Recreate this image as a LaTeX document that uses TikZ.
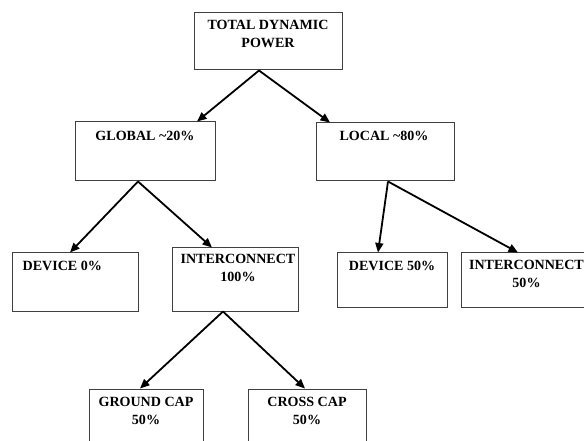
\documentclass[tikz,border=0pt]{standalone}
\usepackage{fontspec}
\setmainfont{Liberation Serif}
\usetikzlibrary{arrows.meta}
\tikzset{
  box/.style={draw=black!75, line width=1bp, fill=white, inner sep=0pt},
  txt/.style={anchor=north, inner sep=0pt, align=center, text=black,
    font=\fontsize{14.1}{18}\selectfont\bfseries},
  conn/.style={line width=1.8bp, -{Triangle[length=9.5bp,width=8bp]}}
}
\begin{document}
\begin{tikzpicture}[x=1bp,y=-1bp]
\useasboundingbox (0,0) rectangle (584,441);
\clip (0,0) rectangle (584,441);
\fill[white] (0,0) rectangle (584,441);
% boxes
\node[box, minimum width=148bp, minimum height=57bp] (top) at (268,41.5) {};
\node[box, minimum width=140bp, minimum height=59bp] (glob) at (145,151.5) {};
\node[box, minimum width=138bp, minimum height=58bp] (loc) at (385,152) {};
\node[box, minimum width=125bp, minimum height=58bp] (dev0) at (75.5,282) {};
\node[box, minimum width=126bp, minimum height=63bp] (ic100) at (235,279.5) {};
\node[box, minimum width=110bp, minimum height=54bp] (dev50) at (392,280) {};
\node[box, minimum width=129bp, minimum height=54bp] (ic50) at (525.5,280) {};
\node[box, minimum width=114bp, minimum height=61bp] (ground) at (146,419.5) {};
\node[box, minimum width=118bp, minimum height=61bp] (cross) at (307,419.5) {};
% texts
\node[txt] (tTop) at ([yshift=-7.5bp]top.north) {TOTAL DYNAMIC\\POWER};
\node[txt] (tGlob) at ([yshift=-9bp]glob.north) {GLOBAL \textasciitilde20\%};
\node[txt] (tLoc) at ([yshift=-8.5bp,xshift=-1bp]loc.north) {LOCAL \textasciitilde80\%};
\node[txt, anchor=north west] (tDev0) at ([yshift=-8.5bp,xshift=10bp]dev0.north west) {DEVICE 0\%};
\node[txt] (tIc100) at ([yshift=-6.5bp,xshift=3bp]ic100.north) {INTERCONNECT\\100\%};
\node[txt] (tDev50) at ([yshift=-8.5bp]dev50.north) {DEVICE 50\%};
\node[txt] (tIc50) at ([yshift=-7.5bp,xshift=1bp]ic50.north) {INTERCONNECT\\50\%};
\node[txt] (tGround) at ([yshift=-8.5bp]ground.north) {GROUND CAP\\50\%};
\node[txt] (tCross) at ([yshift=-8.5bp]cross.north) {CROSS CAP\\50\%};
% connectors
\draw[conn] ([xshift=-9bp]top.south) -- ([xshift=52bp]glob.north);
\draw[conn] ([xshift=-9bp]top.south) -- ([xshift=-55bp]loc.north);
\draw[conn] ([xshift=-7bp]glob.south) -- ([xshift=-5.5bp]dev0.north);
\draw[conn] ([xshift=-7bp]glob.south) -- ([xshift=-23bp]ic100.north);
\draw[conn] ([xshift=3bp]loc.south) -- ([xshift=-14bp]dev50.north);
\draw[conn] ([xshift=3bp]loc.south) -- ([xshift=-7.5bp]ic50.north);
\draw[conn] ([xshift=-12bp]ic100.south) -- ([xshift=-6bp]ground.north);
\draw[conn] ([xshift=-12bp]ic100.south) -- ([xshift=-2bp]cross.north);
\end{tikzpicture}
\end{document}
